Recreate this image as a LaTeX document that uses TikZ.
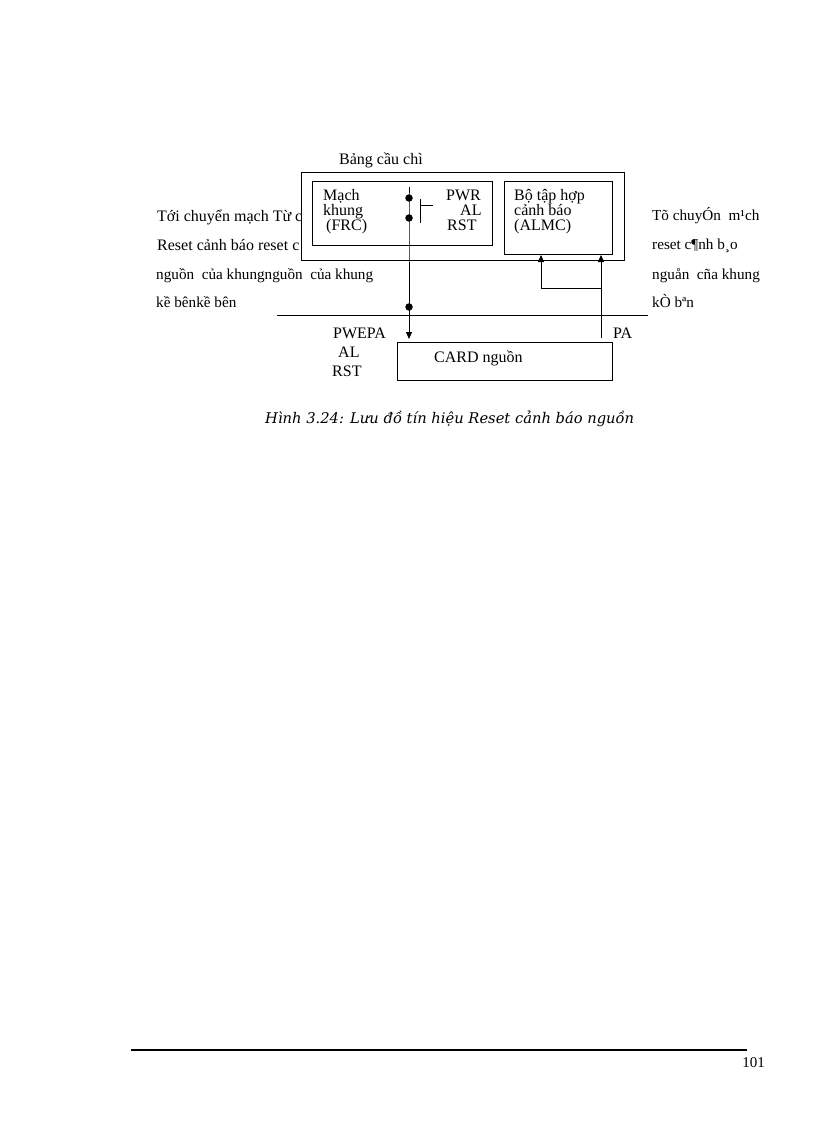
\documentclass[tikz,border=0pt]{standalone}
\usepackage{fontspec}
\setmainfont{Liberation Serif}
\newfontfamily\capfont{DejaVu Serif}
\usetikzlibrary{arrows.meta}
\begin{document}
\begin{tikzpicture}[x=1pt,y=-1pt,
  txt/.style={anchor=base west,inner sep=0pt,font=\fontsize{16}{16}\selectfont},
  side/.style={anchor=base west,inner sep=0pt,font=\fontsize{15.2}{15}\selectfont},
  box/.style={draw,line width=1pt,fill=white,anchor=north west,inner sep=0pt},
  wire/.style={line width=0.9pt},
  arr/.style={wire,-{Triangle[length=7pt,width=6pt]}},
  dot/.style={circle,fill,inner sep=0pt,minimum size=7.5pt}]
\useasboundingbox[fill=white] (0,0) rectangle (816,1123);
% left text (partly covered by the frame)
\node[txt] (l1) at (157,222) {Tới chuyển mạch Từ c};
\node[txt] (l2) at (157,251) {Reset cảnh báo reset c};
\node[side] (l3) at (156,279) {nguồn\ \ của khungnguồn\ \ của khung};
\node[side] (l4) at (156,307) {kề bênkề bên};
% right text
\node[side] (r1) at (652,221) {Tõ chuyÓn\ \ m¹ch};
\node[side] (r2) at (652,250) {reset c¶nh b¸o};
\node[side] (r3) at (652,279) {nguån\ \ cña khung};
\node[side] (r4) at (652,307) {kÒ bªn};
% boxes
\node[box,minimum width=323pt,minimum height=88pt] (bang) at (301,172) {};
\node[txt] (bangl) at (339,165) {Bảng cầu chì};
\node[box,minimum width=180pt,minimum height=64pt] (frc) at (312,181) {};
\node[box,minimum width=108pt,minimum height=73pt] (almc) at (504,181) {};
\node[box,minimum width=215pt,minimum height=38pt] (card) at (397,342) {};
% box texts
\node[txt] (frc1) at (323,201) {Mạch};
\node[txt] (frc2) at (323,215) {khung};
\node[txt] (frc3) at (326,230) {(FRC)};
\node[txt] (pwr1) at (446,201) {PWR};
\node[txt] (pwr2) at (460,215) {AL};
\node[txt] (pwr3) at (447,230) {RST};
\node[txt] (al1) at (514,201) {Bộ tập hợp};
\node[txt] (al2) at (514,215) {cảnh báo};
\node[txt] (al3) at (514,230) {(ALMC)};
\node[txt] (cardl) at (434,362) {CARD nguồn};
\node[txt] (pw1) at (333,338) {PWEPA};
\node[txt] (pw2) at (338,357) {AL};
\node[txt] (pw3) at (332,376) {RST};
\node[txt] (pa) at (613,338) {PA};
% wiring
\coordinate (vtop) at (409,187);
\node[dot] (d1) at (409,198) {};
\node[dot] (d2) at (409,218) {};
\node[dot] (d3) at (409,307) {};
\coordinate (vend) at (409,339);
\draw[wire] (vtop) -- (d1.center) -- (d2.center) -- (d3.center);
\draw[arr] (d3.center) -- (vend);
\coordinate (swa) at (420,199);
\coordinate (swb) at (420,223);
\coordinate (swc) at (420,205);
\coordinate (swd) at (433,205);
\draw[wire] (swa) -- (swb);
\draw[wire] (swc) -- (swd);
\coordinate (hla) at (277,315);
\coordinate (hlb) at (648,315);
\draw[wire] (hla) -- (hlb);
\coordinate (pab) at (601,338);
\coordinate (ja) at (601,288);
\coordinate (jb) at (541,288);
\draw[arr] (pab) -- (pab |- almc.south);
\draw[arr] (ja) -- (jb) -- (jb |- almc.south);
% caption
\node[txt,font=\fontsize{14.7}{14.7}\capfont\itshape] (cap) at (265,423) {Hình 3.24: Lưu đồ tín hiệu Reset cảnh báo nguồn};
% footer
\coordinate (fa) at (131,1050);
\coordinate (fb) at (747,1050);
\draw[line width=2pt] (fa) -- (fb);
\node[anchor=base east,inner sep=0pt,font=\fontsize{15}{15}\selectfont] (pg) at (765,1067) {101};
\end{tikzpicture}
\end{document}
